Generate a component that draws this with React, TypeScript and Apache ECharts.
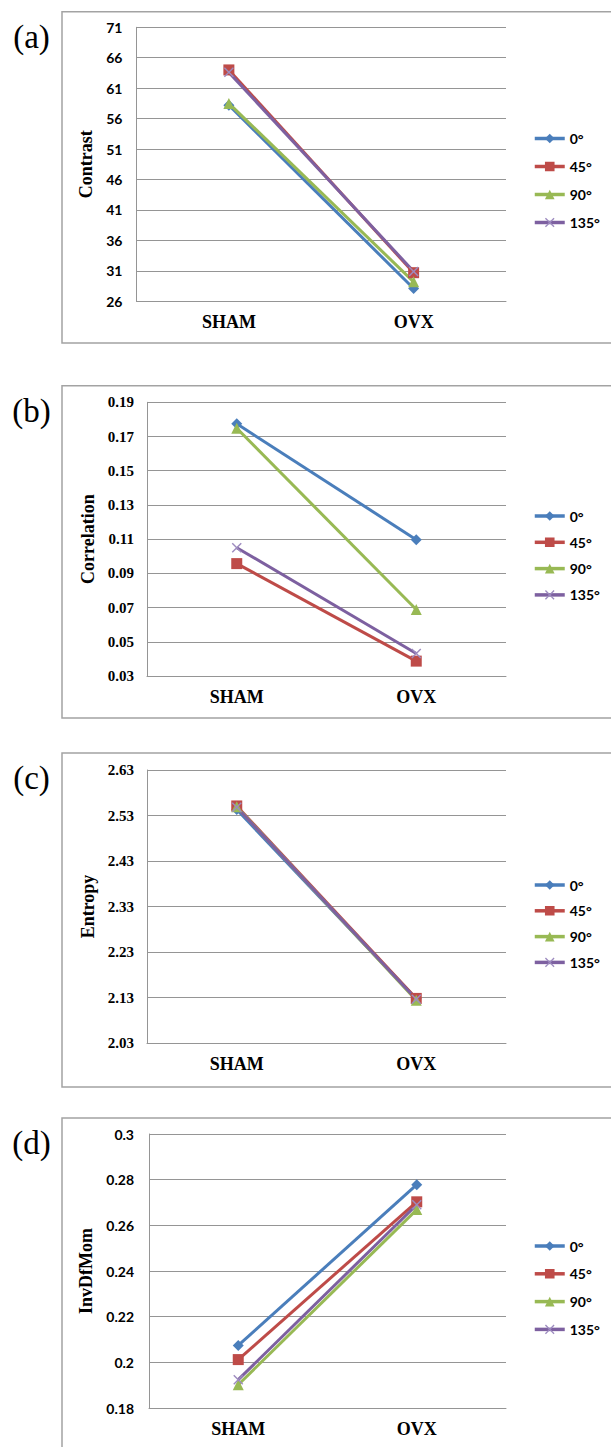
import React, { useEffect, useRef } from "react";
import * as echarts from "echarts";

const categories = ["SHAM", "OVX"];
const angleNames = ["0°", "45°", "90°", "135°"];

// (a) Contrast
const contrast0 = [58.2, 28.1];
const contrast45 = [64.0, 30.7];
const contrast90 = [58.5, 29.2];
const contrast135 = [63.6, 30.9];
const contrastTicks = [26, 31, 36, 41, 46, 51, 56, 61, 66, 71];

// (b) Correlation
const corr0 = [0.1774, 0.1097];
const corr45 = [0.0957, 0.0387];
const corr90 = [0.1748, 0.0689];
const corr135 = [0.105, 0.0432];
const corrTicks = [0.03, 0.05, 0.07, 0.09, 0.11, 0.13, 0.15, 0.17, 0.19];

// (c) Entropy
const entropy0 = [2.543, 2.127];
const entropy45 = [2.551, 2.128];
const entropy90 = [2.549, 2.124];
const entropy135 = [2.548, 2.126];
const entropyTicks = [2.03, 2.13, 2.23, 2.33, 2.43, 2.53, 2.63];

// (d) InvDfMom
const idm0 = [0.2074, 0.2778];
const idm45 = [0.2012, 0.2703];
const idm90 = [0.1902, 0.2669];
const idm135 = [0.1924, 0.269];
const idmTicks = [0.18, 0.2, 0.22, 0.24, 0.26, 0.28, 0.3];

const COLORS = ["#4A7EBB", "#BE4B48", "#98B954", "#7D60A0"];
const X_PATH = "path://M0,1L1,0L5,4L9,0L10,1L6,5L10,9L9,10L5,6L1,10L0,9L4,5Z";
const SYMBOLS = ["diamond", "rect", "triangle", X_PATH];
const SIZES = [11, 11, 11, 10];

const GRID_COLOR = "#959595";
const SERIF = "'Liberation Serif', 'Times New Roman', serif";
const SANS = "Lato, 'Open Sans', sans-serif";

export default function App() {
  const ref = useRef<HTMLDivElement>(null);

  useEffect(() => {
    document.body.style.margin = "0";
    const chart = echarts.init(ref.current!, null, { renderer: "svg" });

    const panels = [
      {
        label: "(a)", name: "Contrast", ticks: contrastTicks,
        data: [contrast0, contrast45, contrast90, contrast135],
        grid: { left: 136.5, top: 27.3, width: 369.5, height: 274 },
        frameTop: 11.7, frameBottom: 343, labelFont: SANS, labelSize: 14,
        labelMargin: 14, nameGap: 38.5, legendTop: 125, legendGap: 11,
      },
      {
        label: "(b)", name: "Correlation", ticks: corrTicks,
        data: [corr0, corr45, corr90, corr135],
        grid: { left: 147, top: 402.3, width: 359, height: 273.7 },
        frameTop: 385.7, frameBottom: 718, labelFont: SERIF, labelSize: 15,
        labelMargin: 13, nameGap: 49.5, legendTop: 502.5, legendGap: 9.3,
      },
      {
        label: "(c)", name: "Entropy", ticks: entropyTicks,
        data: [entropy0, entropy45, entropy90, entropy135],
        grid: { left: 147, top: 770, width: 359, height: 273 },
        frameTop: 753, frameBottom: 1087, labelFont: SERIF, labelSize: 15,
        labelMargin: 13, nameGap: 49.5, legendTop: 871.5, legendGap: 8.8,
      },
      {
        label: "(d)", name: "InvDfMom", ticks: idmTicks,
        data: [idm0, idm45, idm90, idm135],
        grid: { left: 149, top: 1134, width: 357, height: 274 },
        frameTop: 1118, frameBottom: 1470, labelFont: SANS, labelSize: 14,
        labelMargin: 15, nameGap: 51.5, legendTop: 1232.5, legendGap: 10.8,
      },
    ];

    const grids: any[] = [];
    const xAxes: any[] = [];
    const yAxes: any[] = [];
    const series: any[] = [];
    const legends: any[] = [];
    const graphics: any[] = [];

    panels.forEach((p, pi) => {
      grids.push({ ...p.grid, containLabel: false });
      xAxes.push({
        type: "category",
        gridIndex: pi,
        data: categories,
        boundaryGap: true,
        axisLine: { show: true, lineStyle: { color: GRID_COLOR, width: 1 } },
        axisTick: { show: false },
        axisLabel: {
          margin: 12,
          color: "#000",
          fontFamily: SERIF,
          fontWeight: "bold",
          fontSize: 18,
        },
      });
      yAxes.push({
        type: "value",
        gridIndex: pi,
        min: p.ticks[0],
        max: p.ticks[p.ticks.length - 1],
        name: p.name,
        nameLocation: "middle",
        nameGap: p.nameGap,
        nameRotate: 90,
        nameTextStyle: {
          color: "#000",
          fontFamily: SERIF,
          fontWeight: "bold",
          fontSize: 18,
        },
        axisLine: { show: true, lineStyle: { color: GRID_COLOR, width: 1 } },
        axisTick: { show: false, customValues: p.ticks },
        axisLabel: {
          customValues: p.ticks,
          margin: p.labelMargin,
          color: "#000",
          fontFamily: p.labelFont,
          fontWeight: "bold",
          fontSize: p.labelSize,
        },
        splitLine: { show: true, lineStyle: { color: GRID_COLOR, width: 1 } },
      });
      p.data.forEach((d, si) => {
        series.push({
          type: "line",
          name: angleNames[si],
          xAxisIndex: pi,
          yAxisIndex: pi,
          data: d,
          symbol: SYMBOLS[si],
          symbolSize: SIZES[si],
          showAllSymbol: true,
          lineStyle: { color: COLORS[si], width: 3 },
          itemStyle: {
            color: si === 3 ? "#9D8BBF" : COLORS[si],
            borderWidth: 0,
          },
          emphasis: { disabled: true },
        });
      });
      legends.push({
        orient: "vertical",
        left: 528,
        top: p.legendTop,
        itemWidth: 30,
        itemHeight: 12,
        itemGap: p.legendGap,
        data: angleNames,
        selectedMode: false,
        lineStyle: { width: 3.5 },
        textStyle: {
          color: "#000",
          fontFamily: SANS,
          fontWeight: "bold",
          fontSize: 14,
          lineHeight: 17,
        },
      });
      graphics.push({
        type: "rect",
        shape: { x: 62, y: p.frameTop, width: 580, height: p.frameBottom - p.frameTop },
        style: { fill: "none", stroke: "#a3a3a3", lineWidth: 1.5 },
        silent: true,
        z: -1,
      });
      graphics.push({
        type: "text",
        x: 31.5,
        y: p.frameTop + 25,
        style: {
          text: p.label,
          fill: "#000",
          font: `33px ${SERIF}`,
          textAlign: "center",
          textVerticalAlign: "middle",
        },
      });
    });

    chart.setOption({
      animation: false,
      backgroundColor: "#fff",
      grid: grids,
      xAxis: xAxes,
      yAxis: yAxes,
      series,
      legend: legends,
      graphic: graphics,
    });

    return () => chart.dispose();
  }, []);

  return (
    <div
      ref={ref}
      style={{ position: "absolute", left: 0, top: 0, width: 611, height: 1447 }}
    />
  );
}
